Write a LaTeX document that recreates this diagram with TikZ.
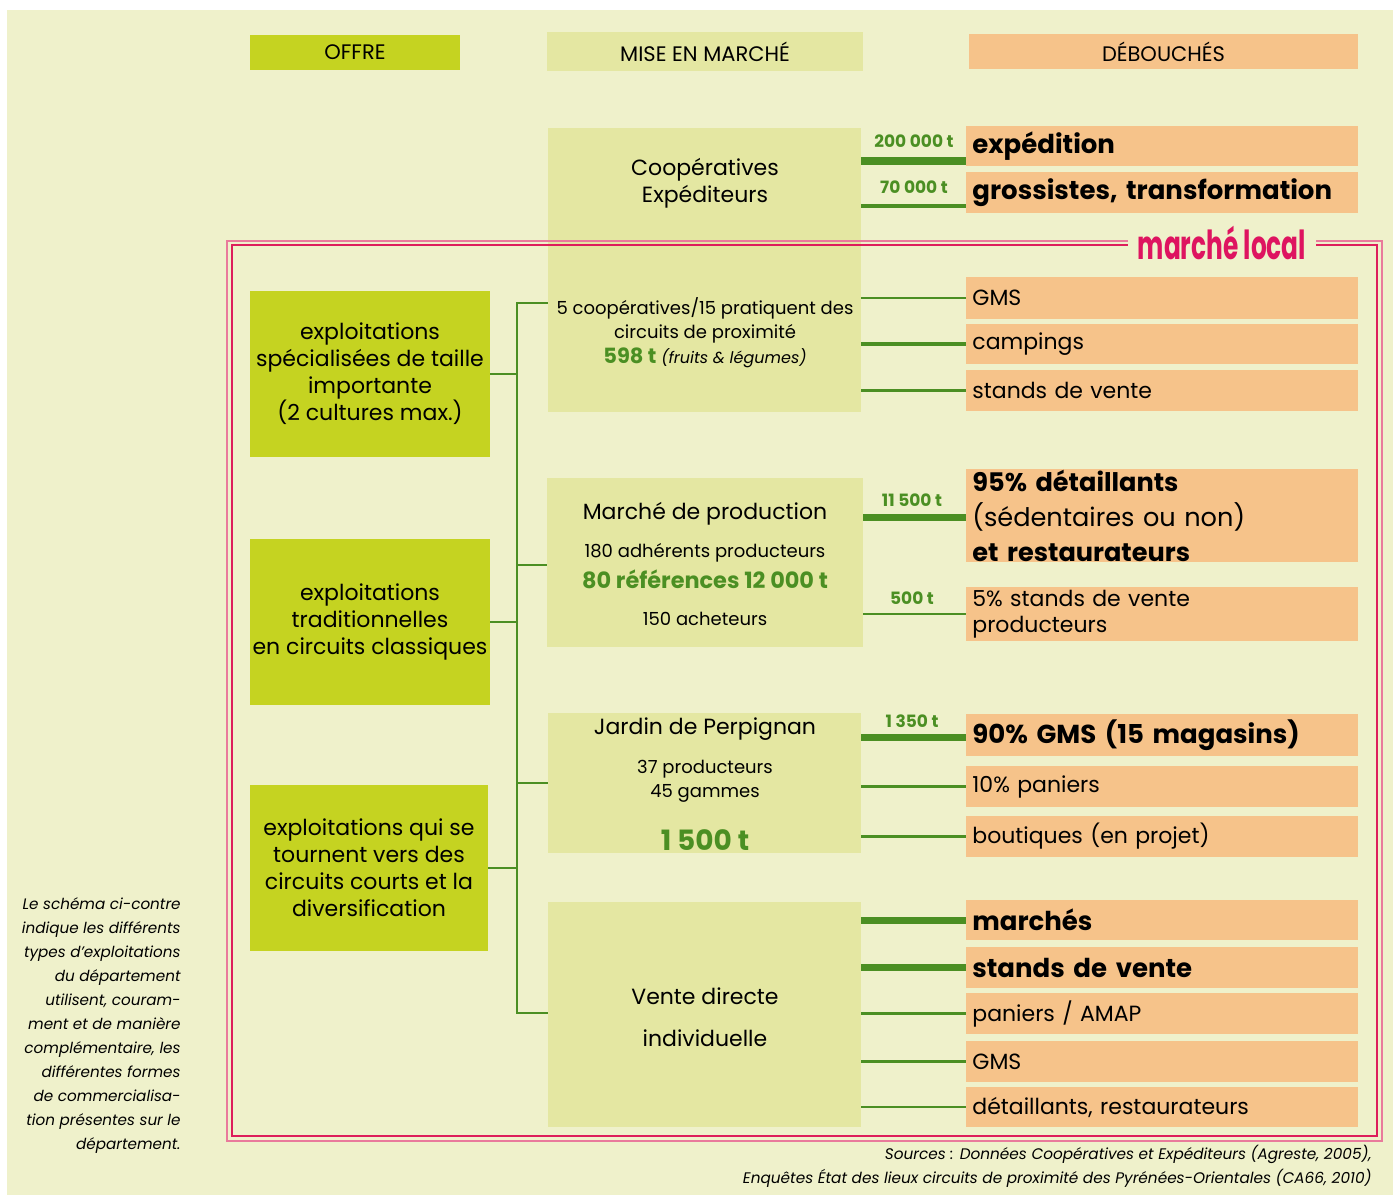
\documentclass[tikz,border=0pt]{standalone}
\usepackage{fontspec}
\setmainfont{Poppins}
\usepackage{xcolor}
\usetikzlibrary{positioning}

\definecolor{panelcol}{HTML}{EFF1CB}
\definecolor{offrecol}{HTML}{C5D321}
\definecolor{misecol}{HTML}{E4E7A2}
\definecolor{debcol}{HTML}{F6C38A}
\definecolor{flowcol}{HTML}{4B8F23}
\definecolor{framecol}{HTML}{DD1E5B}
\definecolor{framelight}{HTML}{E97A9B}
\definecolor{localcol}{HTML}{DE1460}

\begin{document}
\begin{tikzpicture}[x=0.5pt,y=-0.5pt,
    offre/.style={fill=offrecol, inner sep=0pt, align=center, font=\fontsize{11}{13.5}\selectfont},
    mise/.style={fill=misecol, inner sep=0pt},
    deb/.style={fill=debcol, anchor=west, minimum width=196pt, text width=190pt,
      inner xsep=3pt, inner ysep=0pt, align=left, font=\fontsize{11}{13}\selectfont},
    big/.style={font=\fontsize{13}{17.5}\selectfont\bfseries},
    title/.style={align=center, yshift=-1.2pt, font=\fontsize{11}{13.5}\selectfont},
    small/.style={align=center, yshift=-1pt, font=\fontsize{9}{12}\selectfont},
    thin/.style={draw=flowcol, line width=1.4pt},
    mid/.style={draw=flowcol, line width=2.3pt},
    fat/.style={draw=flowcol, line width=3.5pt},
    tonnes/.style={text=flowcol, font=\fontsize{8.5}{10}\selectfont\bfseries},
    tree/.style={draw=flowcol, line width=1.4pt}]
  \useasboundingbox (0,0) rectangle (1393,1195);
  \fill[panelcol] (7,10) rectangle (1393,1195);

  % headers
  \node[fill=offrecol, minimum width=105pt, minimum height=17.5pt, font=\fontsize{10.5}{12}\selectfont] (hoffre) at (355,52.5) {OFFRE};
  \node[fill=misecol, minimum width=158pt, minimum height=19.5pt, font=\fontsize{10.5}{12}\selectfont] (hmise) at (705,51.5) {MISE EN MARCHÉ};
  \node[fill=debcol, minimum width=194.5pt, minimum height=17.5pt, font=\fontsize{10.5}{12}\selectfont] (hdeb) at (1163.5,51.5) {DÉBOUCHÉS};

  % mise en marche
  \node[mise, minimum width=156.5pt, minimum height=142pt] (coop) at (704.5,270) {};
  \node[mise, minimum width=158pt, minimum height=84.5pt] (prod) at (705,562.5) {};
  \node[mise, minimum width=156.5pt, minimum height=70pt] (jardin) at (704.5,783) {};
  \node[mise, minimum width=156.5pt, minimum height=112.5pt] (vente) at (704.5,1014.5) {};

  \node[title] (coopT) at (705,181) {Coopératives\\Expéditeurs};
  \node[small] (coopB) at (705,318) {5 coopératives/15 pratiquent des\\circuits de proximité};
  \node[font=\fontsize{9}{12}\selectfont, yshift=-1pt] (coopV) at (705,356) {{\color{flowcol}\bfseries\fontsize{10.5}{12}\selectfont 598 t} {\itshape\fontsize{8}{10}\selectfont (fruits \& légumes)}};
  \node[title] (prodT) at (705,511) {Marché de production};
  \node[small] (prodA) at (705,551) {180 adhérents producteurs};
  \node[text=flowcol, yshift=-1pt, font=\fontsize{11.2}{12}\selectfont\bfseries] (prodV) at (705,577) {80 références 12 000 t};
  \node[small] (prodB) at (705,617) {150 acheteurs};
  \node[title] (jardinT) at (705,727) {Jardin de Perpignan};
  \node[small] (jardinA) at (705,779) {37 producteurs\\45 gammes};
  \node[text=flowcol, yshift=-1pt, font=\fontsize{14}{15}\selectfont\bfseries] (jardinV) at (705,838) {1 500 t};
  \node[align=center, yshift=-1pt, font=\fontsize{11}{21}\selectfont] (venteT) at (705,1015) {Vente directe\\individuelle};

  % offre
  \node[offre, minimum width=120pt, minimum height=83pt] (spec) at (370,374) {exploitations\\spécialisées de taille\\importante\\(2 cultures max.)};
  \node[offre, minimum width=120pt, minimum height=83pt] (trad) at (370,622) {exploitations\\traditionnelles\\en circuits classiques};
  \node[offre, minimum width=119pt, minimum height=83pt] (court) at (369,868) {exploitations qui se\\tournent vers des\\circuits courts et la\\diversification};

  % debouches
  \node[deb, big, minimum height=20pt] (exp) at (966,146) {expédition};
  \node[deb, big, minimum height=20.5pt] (gros) at (966,192.5) {grossistes, transformation};
  \node[deb, minimum height=21pt] (gmsA) at (966,298) {GMS};
  \node[deb, minimum height=20pt] (camp) at (966,344) {campings};
  \node[deb, minimum height=20.5pt] (standA) at (966,390.5) {stands de vente};
  \node[deb, minimum height=46.5pt, font=\fontsize{12.8}{17.5}\selectfont] (det) at (966,515.5) {\textbf{95\% détaillants}\\(sédentaires ou non)\\\textbf{et restaurateurs}};
  \node[deb, minimum height=27pt] (standB) at (966,614) {5\% stands de vente\\producteurs};
  \node[deb, big, minimum height=21pt] (gmsB) at (966,735) {90\% GMS (15 magasins)};
  \node[deb, minimum height=20.5pt] (panA) at (966,786.5) {10\% paniers};
  \node[deb, minimum height=20.5pt] (bout) at (966,836.5) {boutiques (en projet)};
  \node[deb, big, minimum height=20pt] (marches) at (966,920) {marchés};
  \node[deb, big, minimum height=20.5pt] (standC) at (966,967.5) {stands de vente};
  \node[deb, minimum height=20.5pt] (panB) at (966,1013.5) {paniers / AMAP};
  \node[deb, minimum height=20.5pt] (gmsC) at (966,1061.5) {GMS};
  \node[deb, minimum height=20pt] (detail) at (966,1107) {détaillants, restaurateurs};

  % flux
  \draw[fat, line width=4pt] (coop.east |- 0,161) -- (exp.west |- 0,161);
  \draw[mid] (coop.east |- 0,206) -- (gros.west |- 0,206);
  \draw[thin] (coop.east |- gmsA) -- (gmsA);
  \draw[mid] (coop.east |- camp) -- (camp);
  \draw[thin] (coop.east |- standA) -- (standA);
  \draw[fat] (prod.east |- 0,517) -- (det.west |- 0,517);
  \draw[thin] (prod.east |- standB) -- (standB);
  \draw[fat] (jardin.east |- 0,737) -- (gmsB.west |- 0,737);
  \draw[thin] (jardin.east |- panA) -- (panA);
  \draw[thin] (jardin.east |- bout) -- (bout);
  \draw[fat] (vente.east |- marches) -- (marches);
  \draw[fat] (vente.east |- standC) -- (standC);
  \draw[thin] (vente.east |- panB) -- (panB);
  \draw[thin] (vente.east |- gmsC) -- (gmsC);
  \draw[thin] (vente.east |- detail) -- (detail);

  \node[tonnes] (t200) at (914,141) {200 000 t};
  \node[tonnes] (t70) at (914,187) {70 000 t};
  \node[tonnes] (t11) at (912,500) {11 500 t};
  \node[tonnes] (t500) at (912,598) {500 t};
  \node[tonnes] (t13) at (912,721) {1 350 t};

  % arbre
  \coordinate (trunkTop) at (517,303);
  \coordinate (trunkBot) at (517,1013);
  \draw[tree] (coop.west |- trunkTop) -- (trunkTop) -- (trunkBot) -- (vente.west |- trunkBot);
  \draw[tree] (trunkTop |- 0,565) -- (prod.west |- 0,565);
  \draw[tree] (trunkTop |- 0,783) -- (jardin.west);
  \draw[tree] (spec.east) -- (trunkTop |- spec.east);
  \draw[tree] (trad.east) -- (trunkTop |- trad.east);
  \draw[tree] (court.east) -- (trunkTop |- court.east);

  % marche local
  \draw[framelight, line width=1.3pt] (227,241) rectangle (1382,1141);
  \draw[framecol, line width=0.7pt] (232,245) rectangle (1377,1136);
  \node[fill=panelcol, inner xsep=5pt, inner ysep=1pt, text=localcol] (local) at (1222,243)
    {\scalebox{0.62}[1]{\bfseries\fontsize{20}{22}\selectfont marché local}};

  \node[anchor=north east, inner sep=0pt, align=right, font=\fontsize{7.6}{12}\selectfont\itshape] (note) at (181,897)
    {Le schéma ci-contre\\indique les différents\\types d'exploitations\\du département\\utilisent, couram-\\ment et de manière\\complémentaire, les\\différentes formes\\de commercialisa-\\tion présentes sur le\\département.};
  \node[anchor=east, inner sep=0pt, align=right, font=\fontsize{7.65}{12}\selectfont\itshape] (src) at (1372,1166)
    {Sources : Données Coopératives et Expéditeurs (Agreste, 2005),\\Enquêtes État des lieux circuits de proximité des Pyrénées-Orientales (CA66, 2010)};
\end{tikzpicture}
\end{document}
